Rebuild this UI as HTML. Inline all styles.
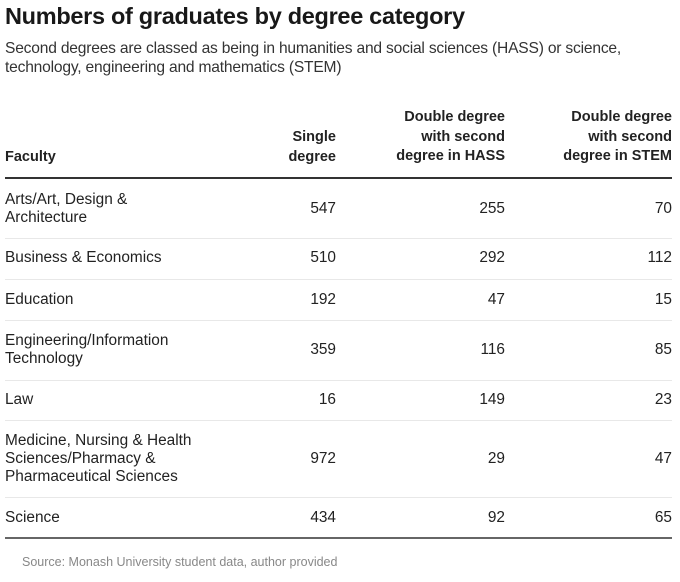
<!DOCTYPE html>
<html><head><meta charset="utf-8"><style>
body{margin:0;width:680px;height:582px;background:#fff;font-family:"Liberation Sans",sans-serif;color:#222;position:relative;overflow:hidden}
.a{position:absolute;white-space:nowrap}
.t{left:5px;top:3px;font-size:23.5px;font-weight:bold;color:#181818;letter-spacing:-0.3px}
.s{left:5px;font-size:15.6px;color:#333;letter-spacing:-0.2px}
.h{font-weight:bold;font-size:14.5px;text-align:right;line-height:19.5px}
.c{font-size:15.4px;line-height:18px}
.r{text-align:right}
.line{position:absolute;left:5px;width:667px;height:1px;background:#e8e8e8}
.thick{position:absolute;left:5px;width:667px;height:2px;background:#333}
.src{left:22px;top:555px;font-size:12.5px;color:#888}
</style></head><body>
<div class="a t">Numbers of graduates by degree category</div>
<div class="a s" style="top:40px">Second degrees are classed as being in humanities and social sciences (HASS) or science,</div>
<div class="a s" style="top:59px">technology, engineering and mathematics (STEM)</div>

<div class="a h" style="left:5px;top:148px;text-align:left">Faculty</div>
<div class="a h" style="right:344px;top:128px">Single<br>degree</div>
<div class="a h" style="right:175px;top:108px">Double degree<br>with second<br>degree in HASS</div>
<div class="a h" style="right:8px;top:108px">Double degree<br>with second<br>degree in STEM</div>
<div class="thick" style="top:177px"></div>

<div class="a c" style="left:5px;top:191px">Arts/Art, Design &amp;<br>Architecture</div>
<div class="a c r" style="right:344px;top:200px">547</div><div class="a c r" style="right:175px;top:200px">255</div><div class="a c r" style="right:8px;top:200px">70</div>
<div class="line" style="top:238px"></div>

<div class="a c" style="left:5px;top:249px">Business &amp; Economics</div>
<div class="a c r" style="right:344px;top:249px">510</div><div class="a c r" style="right:175px;top:249px">292</div><div class="a c r" style="right:8px;top:249px">112</div>
<div class="line" style="top:279px"></div>

<div class="a c" style="left:5px;top:291px">Education</div>
<div class="a c r" style="right:344px;top:291px">192</div><div class="a c r" style="right:175px;top:291px">47</div><div class="a c r" style="right:8px;top:291px">15</div>
<div class="line" style="top:320px"></div>

<div class="a c" style="left:5px;top:332px">Engineering/Information<br>Technology</div>
<div class="a c r" style="right:344px;top:341px">359</div><div class="a c r" style="right:175px;top:341px">116</div><div class="a c r" style="right:8px;top:341px">85</div>
<div class="line" style="top:380px"></div>

<div class="a c" style="left:5px;top:391px">Law</div>
<div class="a c r" style="right:344px;top:391px">16</div><div class="a c r" style="right:175px;top:391px">149</div><div class="a c r" style="right:8px;top:391px">23</div>
<div class="line" style="top:420px"></div>

<div class="a c" style="left:5px;top:432px">Medicine, Nursing &amp; Health<br>Sciences/Pharmacy &amp;<br>Pharmaceutical Sciences</div>
<div class="a c r" style="right:344px;top:450px">972</div><div class="a c r" style="right:175px;top:450px">29</div><div class="a c r" style="right:8px;top:450px">47</div>
<div class="line" style="top:497px"></div>

<div class="a c" style="left:5px;top:509px">Science</div>
<div class="a c r" style="right:344px;top:509px">434</div><div class="a c r" style="right:175px;top:509px">92</div><div class="a c r" style="right:8px;top:509px">65</div>
<div class="thick" style="top:537px;background:#666"></div>

<div class="a src">Source: Monash University student data, author provided</div>
</body></html>
